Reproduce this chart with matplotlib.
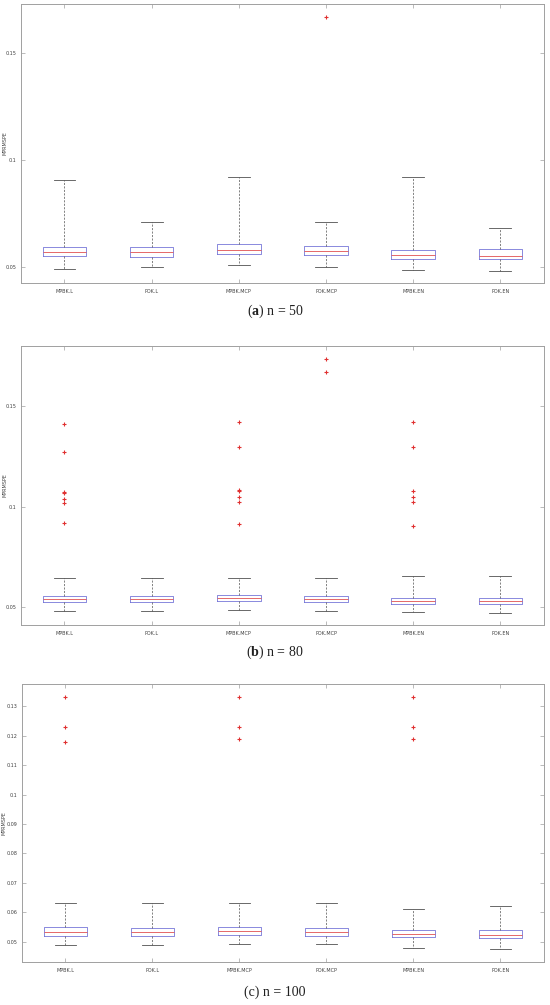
import matplotlib.pyplot as plt
import numpy as np

plt.rcParams['mathtext.fontset'] = 'custom'
plt.rcParams['mathtext.rm'] = 'Liberation Serif'
plt.rcParams['mathtext.bf'] = 'Liberation Serif:bold'

methods = ['MPBK.L', 'POK.L', 'MPBK.MCP', 'POK.MCP', 'MPBK.EN', 'POK.EN']

# n = 50
lo_50 = [0.0489, 0.0502, 0.0511, 0.0499, 0.0488, 0.0483]
q1_50 = [0.0550, 0.0548, 0.0559, 0.0555, 0.0539, 0.0537]
med_50 = [0.0572, 0.0569, 0.0581, 0.0576, 0.0556, 0.0553]
q3_50 = [0.0595, 0.0592, 0.0606, 0.0597, 0.0578, 0.0583]
hi_50 = [0.0905, 0.0709, 0.0919, 0.0709, 0.0919, 0.0684]
out_50 = [[], [], [], [0.1667], [], []]

# n = 80
lo_80 = [0.0482, 0.0480, 0.0485, 0.0482, 0.0475, 0.0474]
q1_80 = [0.0525, 0.0525, 0.0530, 0.0526, 0.0518, 0.0515]
med_80 = [0.0543, 0.0540, 0.0548, 0.0543, 0.0533, 0.0530]
q3_80 = [0.0556, 0.0555, 0.0560, 0.0556, 0.0546, 0.0546]
hi_80 = [0.0646, 0.0644, 0.0646, 0.0644, 0.0654, 0.0654]
out_80 = [[0.1412, 0.1270, 0.1075, 0.1070, 0.1036, 0.1017, 0.0917],
          [],
          [0.1422, 0.1298, 0.1081, 0.1076, 0.1050, 0.1025, 0.0914],
          [0.1733, 0.1671],
          [0.1422, 0.1298, 0.1078, 0.1050, 0.1025, 0.0906],
          []]

# n = 100
lo_100 = [0.0490, 0.0488, 0.0491, 0.0491, 0.0478, 0.0474]
q1_100 = [0.0520, 0.0518, 0.0523, 0.0519, 0.0515, 0.0511]
med_100 = [0.0533, 0.0532, 0.0536, 0.0534, 0.0525, 0.0524]
q3_100 = [0.0549, 0.0545, 0.0550, 0.0546, 0.0540, 0.0540]
hi_100 = [0.0633, 0.0633, 0.0633, 0.0633, 0.0612, 0.0621]
out_100 = [[0.1333, 0.1229, 0.1178], [], [0.1333, 0.1231, 0.1189], [],
           [0.1333, 0.1231, 0.1189], []]

panels = [
    (lo_50, q1_50, med_50, q3_50, hi_50, out_50, (0.0425, 0.173),
     [0.05, 0.1, 0.15], ['0.05', '0.1', '0.15'], r'($\mathbf{a}$) n = 50'),
    (lo_80, q1_80, med_80, q3_80, hi_80, out_80, (0.0412, 0.1798),
     [0.05, 0.1, 0.15], ['0.05', '0.1', '0.15'], r'($\mathbf{b}$) n = 80'),
    (lo_100, q1_100, med_100, q3_100, hi_100, out_100, (0.0431, 0.1376),
     list(np.round(np.arange(0.05, 0.131, 0.01), 2)),
     ['0.05', '0.06', '0.07', '0.08', '0.09', '0.1', '0.11', '0.12', '0.13'],
     '(c) n = 100'),
]

# axes rectangles [left, bottom, width, height], caption centre y, ylabel x
rects = [[0.038, 0.7184, 0.951, 0.2776],
         [0.038, 0.3781, 0.951, 0.2776],
         [0.040, 0.0428, 0.949, 0.2766]]
cap_y = [0.6905, 0.3512, 0.0125]
lab_x = [-0.026, -0.026, -0.029]

fig = plt.figure(figsize=(5.5, 10.05), dpi=100)
edge = '#a0a0a0'

for p, rect, cy, lx in zip(panels, rects, cap_y, lab_x):
    lo, q1, med, q3, hi, out, ylim, yt, ytl, cap = p
    ax = fig.add_axes(rect)
    stats = []
    for i in range(len(methods)):
        stats.append(dict(whislo=lo[i], q1=q1[i], med=med[i], q3=q3[i],
                          whishi=hi[i], fliers=out[i], label=methods[i]))
    ax.bxp(stats, positions=range(1, 7), widths=0.5, showfliers=True,
           boxprops=dict(color='#7676d8', linewidth=0.6),
           medianprops=dict(color='#e05050', linewidth=0.6),
           whiskerprops=dict(color='#505050', linestyle=(0, (3, 2)), linewidth=0.5),
           capprops=dict(color='#505050', linewidth=0.6),
           flierprops=dict(marker='+', markeredgecolor='#e03030',
                           markerfacecolor='none',
                           markersize=3.5, markeredgewidth=0.8, linestyle='none'))
    ax.set_xlim(0.5, 6.5)
    ax.set_ylim(*ylim)
    ax.set_yticks(yt)
    ax.set_yticklabels(ytl)
    ax.set_ylabel('MPRMSPE', fontsize=3.5, color='#404040')
    ax.yaxis.set_label_coords(lx, 0.5)
    ax.tick_params(direction='in', length=3, width=0.5, labelsize=3.5,
                   colors='#a0a0a0', labelcolor='#404040', top=True, right=True,
                   pad=3)
    ax.tick_params(axis='x', pad=4)
    for s in ax.spines.values():
        s.set_color(edge)
        s.set_linewidth(0.7)
    fig.text(0.5, cy, cap, ha='center', va='center', fontsize=10,
             family='Liberation Serif', color='#202020')

fig.savefig('out.png', dpi=100)
